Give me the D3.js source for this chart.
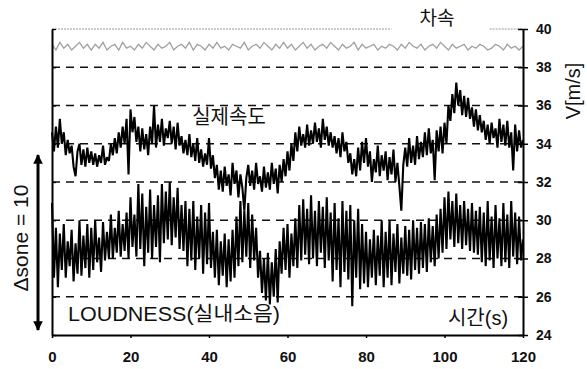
<!DOCTYPE html>
<html>
<head>
<meta charset="utf-8">
<script src="https://cdn.jsdelivr.net/npm/d3@7"></script>
<style>
  body { margin: 0; background: #fff; }
  svg { display: block; }
  text { font-family: "Liberation Sans", "Noto Sans CJK KR", sans-serif; fill: #111; }
</style>
</head>
<body>
<div id="chart"></div>
<script>
// x ticks (time, s) and right-axis ticks (V, m/s)
const xTicks = [0, 20, 40, 60, 80, 100, 120];
const yTicks = [24, 26, 28, 30, 32, 34, 36, 38, 40];
const gridLevels = [26, 28, 30, 32, 34, 36, 38];

// 차속 (vehicle speed), one sample per second
const vehicleSpeed = [
  39.2, 38.9, 39.3, 39.0, 39.2, 38.9, 39.1, 39.3, 39.0, 39.2,
  38.9, 39.2, 39.0, 39.3, 38.9, 39.1, 39.2, 38.9, 39.3, 39.0,
  39.1, 38.9, 39.2, 39.0, 39.3, 39.1, 38.9, 39.2, 39.0, 39.1,
  39.3, 38.9, 39.1, 39.2, 39.0, 39.3, 38.9, 39.2, 39.1, 38.9,
  39.2, 39.0, 39.3, 39.0, 39.1, 38.9, 39.2, 39.1, 39.0, 39.3,
  38.9, 39.1, 39.2, 39.0, 39.3, 39.1, 38.9, 39.2, 39.0, 39.3,
  39.0, 39.2, 38.9, 39.1, 39.3, 39.0, 39.2, 38.9, 39.1, 39.2,
  39.0, 39.3, 39.1, 38.9, 39.2, 39.0, 39.1, 39.3, 38.9, 39.2,
  39.0, 39.1, 39.2, 38.9, 39.1, 39.0, 39.2, 39.1, 38.9, 39.2,
  39.0, 39.3, 39.1, 39.0, 39.2, 38.9, 39.1, 39.2, 39.0, 39.3,
  39.1, 38.9, 39.2, 39.0, 39.1, 39.2, 38.9, 39.1, 39.0, 39.2,
  39.1, 38.9, 39.0, 39.2, 39.1, 38.9, 39.2, 39.0, 39.1, 38.9,
  39.1
];

// 실제속도 (actual speed), two samples per second
const actualSpeed = [
  34.6, 33.6, 34.9, 33.8, 35.3, 34.0, 34.6, 33.4, 34.2, 33.5,
  33.9, 32.8, 32.3, 33.6, 34.0, 32.9, 33.7, 32.8, 33.8, 33.0,
  33.6, 32.9, 33.5, 32.8, 33.4, 33.0, 33.9, 32.9, 33.3, 33.1,
  34.0, 33.4, 34.3, 33.5, 34.6, 33.8, 34.9, 34.0, 35.3, 32.4,
  35.8, 34.6, 35.4, 34.1, 34.9, 33.6, 34.8, 33.7, 34.5, 33.4,
  34.9, 34.0, 36.0, 33.8, 35.0, 34.1, 35.3, 33.9, 34.8, 34.3,
  35.2, 34.0, 34.9, 33.7, 35.1, 33.9, 34.4, 33.5, 34.2, 33.4,
  34.5, 33.3, 34.0, 33.1, 34.3, 33.0, 33.7, 32.8, 33.5, 32.9,
  34.3, 32.7, 33.4, 32.2, 32.9, 31.6, 32.6, 31.5, 32.8, 31.8,
  32.4, 31.3, 33.0, 31.9, 32.6, 31.2, 32.4, 31.7, 30.5, 32.2,
  32.9, 31.8, 32.6, 31.6, 33.0, 31.9, 32.3, 31.5, 32.8, 31.7,
  32.5, 31.6, 33.0, 31.9, 32.7, 31.4, 32.9, 32.0, 33.2, 32.3,
  33.6, 32.6, 34.0, 33.1, 34.6, 33.6, 34.9, 33.9, 34.5, 33.8,
  35.0, 33.9, 34.7, 34.0, 35.1, 34.1, 34.8, 33.8, 35.3, 34.2,
  34.9, 33.9, 34.6, 33.8, 34.4, 33.5, 34.3, 33.3, 34.6, 33.6,
  34.1, 33.0, 33.5, 32.4, 33.2, 32.3, 33.8, 32.6, 34.1, 33.0,
  34.3, 32.8, 33.6, 32.0, 33.2, 32.5, 33.9, 32.3, 33.4, 32.6,
  33.6, 32.1, 33.3, 32.4, 33.7, 32.0, 33.0, 31.8, 30.5, 32.9,
  33.8, 32.8, 34.3, 33.0, 33.9, 32.9, 34.4, 33.2, 34.1, 33.3,
  34.6, 33.4, 34.8, 33.5, 34.2, 32.1, 34.7, 33.6, 34.9, 33.5,
  35.1, 34.0, 36.0, 35.2, 36.6, 35.6, 37.2, 36.0, 36.8, 35.5,
  36.5, 35.4, 36.4, 35.3, 35.9, 34.9, 35.8, 34.7, 35.5, 34.6,
  35.2, 34.2, 35.0, 34.0, 35.1, 34.3, 34.8, 33.8, 35.3, 34.1,
  35.0, 33.9, 35.2, 33.8, 34.6, 32.6, 35.0, 33.6, 34.7, 33.8,
  34.2
];

// LOUDNESS (실내소음), plotted on the same scale, two samples per second
const loudness = [
  30.9, 27.0, 29.6, 26.5, 29.3, 27.4, 29.8, 27.0, 28.9, 27.6,
  29.5, 26.8, 28.8, 27.2, 30.0, 27.1, 29.2, 27.5, 29.8, 27.0,
  29.6, 27.4, 30.0, 27.8, 29.1, 27.3, 29.9, 27.9, 29.4, 28.0,
  30.3, 28.0, 29.6, 28.3, 30.5, 28.1, 29.8, 28.4, 30.4, 28.0,
  31.2, 28.6, 30.3, 28.1, 31.9, 28.5, 31.4, 27.6, 30.7, 28.3,
  31.6, 28.0, 30.8, 28.6, 31.3, 27.8, 31.9, 28.8, 31.5, 29.0,
  32.0, 28.7, 31.2, 29.1, 31.7, 28.5, 30.8, 28.4, 31.0, 27.6,
  30.6, 27.9, 31.0, 27.4, 30.2, 28.0, 30.8, 27.2, 30.4, 27.7,
  30.9, 27.5, 29.4, 27.0, 29.5, 26.6, 28.9, 27.1, 29.3, 26.5,
  29.0, 26.8, 29.5, 27.0, 30.2, 27.6, 31.0, 27.8, 30.5, 28.1,
  30.9, 27.5, 30.3, 27.9, 29.6, 27.0, 28.4, 26.2, 28.0, 25.8,
  28.3, 25.6, 27.8, 26.0, 28.5, 25.7, 28.9, 27.2, 29.6, 27.4,
  29.8, 27.0, 29.3, 27.6, 30.1, 27.5, 30.8, 27.9, 31.1, 28.2,
  30.6, 27.7, 31.3, 28.0, 30.5, 27.6, 31.0, 28.3, 30.7, 27.5,
  31.2, 27.9, 30.4, 26.8, 30.9, 27.4, 30.1, 26.5, 31.0, 27.3,
  30.5, 26.9, 30.8, 25.5, 30.0, 27.0, 30.6, 26.4, 29.8, 26.7,
  29.4, 26.5, 29.0, 27.0, 29.5, 26.6, 29.2, 27.1, 30.0, 26.5,
  29.4, 27.0, 30.0, 26.6, 29.3, 27.3, 29.8, 26.7, 29.1, 27.2,
  29.7, 27.1, 29.5, 26.9, 30.0, 27.4, 29.6, 27.2, 29.9, 27.5,
  29.8, 27.3, 30.1, 27.8, 29.7, 27.6, 30.3, 28.0, 30.6, 28.3,
  31.2, 28.5, 31.5, 29.0, 31.0, 28.6, 31.4, 28.8, 30.8, 28.5,
  31.0, 28.7, 30.6, 28.4, 30.9, 28.3, 30.5, 28.2, 30.7, 27.8,
  30.4, 27.6, 31.0, 27.9, 30.2, 27.5, 30.8, 28.0, 30.1, 27.6,
  30.9, 27.8, 30.3, 27.5, 31.0, 28.1, 30.4, 27.7, 30.2, 27.9,
  29.0
];

const W = 587, H = 369;
const plot = { left: 52, right: 523, top: 29, bottom: 335 };

const svg = d3.select("#chart").append("svg")
  .attr("width", W)
  .attr("height", H);

const x = d3.scaleLinear().domain([0, 120]).range([plot.left, plot.right]);
const y = d3.scaleLinear().domain([24, 40]).range([plot.bottom, plot.top]);

// dashed grid lines
svg.append("g")
  .selectAll("line")
  .data(gridLevels)
  .enter().append("line")
  .attr("x1", x(0)).attr("x2", x(120))
  .attr("y1", d => y(d)).attr("y2", d => y(d))
  .attr("stroke", "#111")
  .attr("stroke-width", 1.4)
  .attr("stroke-dasharray", "8,6");

// light dotted top frame, broken around the 차속 label
[[0, 86.5], [111.5, 120]].forEach(seg => {
  svg.append("line")
    .attr("x1", x(seg[0])).attr("x2", x(seg[1]))
    .attr("y1", y(40)).attr("y2", y(40))
    .attr("stroke", "#999")
    .attr("stroke-width", 1.2)
    .attr("stroke-dasharray", "2,1");
});

// series
const halfStep = (d, i) => x(i * 0.5);
const line2 = d3.line().x(halfStep).y(d => y(d));
const line1 = d3.line().x((d, i) => x(i)).y(d => y(d));

svg.append("path")
  .datum(vehicleSpeed)
  .attr("fill", "none")
  .attr("stroke", "#a0a0a0")
  .attr("stroke-width", 1.3)
  .attr("d", line1);

svg.append("path")
  .datum(loudness)
  .attr("fill", "none")
  .attr("stroke", "#000")
  .attr("stroke-width", 2.1)
  .attr("stroke-linejoin", "bevel")
  .attr("d", line2);

svg.append("path")
  .datum(actualSpeed)
  .attr("fill", "none")
  .attr("stroke", "#000")
  .attr("stroke-width", 2.1)
  .attr("stroke-linejoin", "bevel")
  .attr("d", line2);

// right axis with labels
const rightAxis = svg.append("g")
  .attr("transform", `translate(${plot.right},0)`)
  .call(d3.axisRight(y).tickValues(yTicks).tickSizeInner(5).tickSizeOuter(0).tickPadding(8));
rightAxis.selectAll("line").attr("stroke", "#000").attr("stroke-width", 1.5)
  .attr("x1", -5);
rightAxis.select(".domain").attr("stroke", "#000").attr("stroke-width", 2);
rightAxis.selectAll("text")
  .style("font-size", "14px").style("font-weight", "bold")
  .style("font-family", "'Liberation Sans', sans-serif");

// left axis, no labels
const leftAxis = svg.append("g")
  .attr("transform", `translate(${plot.left},0)`)
  .call(d3.axisLeft(y).tickValues(yTicks).tickSizeInner(-4).tickSizeOuter(0).tickFormat(""));
leftAxis.selectAll("line").attr("stroke", "#000").attr("stroke-width", 1.3);
leftAxis.select(".domain").attr("stroke", "#000").attr("stroke-width", 2);

// bottom axis
const bottomAxis = svg.append("g")
  .attr("transform", `translate(0,${plot.bottom})`)
  .call(d3.axisBottom(x).tickValues(xTicks).tickSizeInner(3).tickSizeOuter(0).tickPadding(13));
bottomAxis.selectAll("line").attr("stroke", "#000").attr("stroke-width", 1.5);
bottomAxis.select(".domain").attr("stroke", "#000").attr("stroke-width", 2);
bottomAxis.selectAll("text")
  .style("font-size", "15px").style("font-weight", "bold")
  .style("font-family", "'Liberation Sans', sans-serif");

// annotations
svg.append("text")
  .attr("x", 437).attr("y", 25)
  .attr("text-anchor", "middle")
  .style("font-size", "19px")
  .text("차속");

svg.append("text")
  .attr("x", 229).attr("y", 124)
  .attr("text-anchor", "middle")
  .style("font-size", "20px")
  .text("실제속도");

svg.append("text")
  .attr("x", 68).attr("y", 321)
  .attr("textLength", 212)
  .attr("lengthAdjust", "spacingAndGlyphs")
  .style("font-size", "20px")
  .text("LOUDNESS(실내소음)");

svg.append("text")
  .attr("x", 478).attr("y", 325)
  .attr("text-anchor", "middle")
  .style("font-size", "20px")
  .text("시간(s)");

svg.append("text")
  .attr("transform", "translate(580,91) rotate(-90)")
  .attr("text-anchor", "middle")
  .style("font-size", "20px")
  .text("V[m/s]");

svg.append("text")
  .attr("transform", "translate(28,238) rotate(-90)")
  .attr("text-anchor", "middle")
  .style("font-size", "21px")
  .text("Δsone = 10");

// double-headed arrow for the loudness scale
const defs = svg.append("defs");
defs.append("marker")
  .attr("id", "head")
  .attr("viewBox", "0 0 10 10")
  .attr("refX", 9).attr("refY", 5)
  .attr("markerWidth", 3.2).attr("markerHeight", 3.2)
  .attr("orient", "auto-start-reverse")
  .append("path")
  .attr("d", "M0,0 L10,5 L0,10 Z")
  .attr("fill", "#000");

svg.append("line")
  .attr("x1", 38).attr("x2", 38)
  .attr("y1", 155).attr("y2", 330)
  .attr("stroke", "#000")
  .attr("stroke-width", 3)
  .attr("marker-start", "url(#head)")
  .attr("marker-end", "url(#head)");
</script>
</body>
</html>
